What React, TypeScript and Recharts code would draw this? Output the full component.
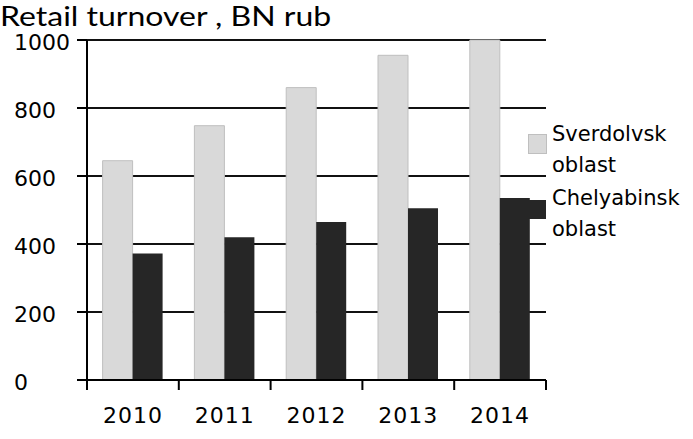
import React from 'react';
import { BarChart, Bar, XAxis, YAxis, CartesianGrid } from 'recharts';

const years = ['2010', '2011', '2012', '2013', '2014'];
const sverdlovsk = [645, 748, 860, 955, 1000];
const chelyabinsk = [372, 420, 465, 505, 535];
const yTicks = [0, 200, 400, 600, 800, 1000];
const seriesNames = ['Sverdolvsk oblast', 'Chelyabinsk oblast'];
const seriesColors = ['#d9d9d9', '#262626'];

const data = years.map((year, i) => ({
    year,
    sverdlovsk: sverdlovsk[i],
    chelyabinsk: chelyabinsk[i],
}));

const FONT = '"DejaVu Sans", sans-serif';

// category ticks sit on the band edges, like the spreadsheet original
const YearTick: React.FC<any> = ({ x, y, payload, index }) => {
    const half = payload && payload.offset ? payload.offset : 46;
    const top = y - 8;
    return (
        <g>
            <line x1={x - half} y1={top} x2={x - half} y2={top + 10} stroke="#000" strokeWidth={2} />
            {index === years.length - 1 && (
                <line x1={x + half} y1={top} x2={x + half} y2={top + 10} stroke="#000" strokeWidth={2} />
            )}
            <text x={x} y={top + 43} textAnchor="middle" fontFamily={FONT} fontSize={22} letterSpacing={1} fill="#000">
                {payload.value}
            </text>
        </g>
    );
};

// value labels are left aligned in the original
const ValueTick: React.FC<any> = ({ x, y, payload }) => (
    <g>
        <line x1={x - 2} y1={y} x2={x + 8} y2={y} stroke="#000" strokeWidth={2} />
        <text x={14} y={y + 10} textAnchor="start" fontFamily={FONT} fontSize={22} fill="#000">
            {payload.value}
        </text>
    </g>
);

const LegendBox: React.FC = () => {
    const [first, second] = seriesNames.map((n) => n.split(' '));
    return (
        <div style={{ position: 'absolute', left: 528, top: 120, width: 165, height: 130, fontFamily: FONT, fontSize: 21, color: '#000' }}>
            <div style={{ position: 'absolute', left: 0, top: 14, width: 17, height: 18, background: seriesColors[0], border: '1px solid #bfbfbf' }} />
            <div style={{ position: 'absolute', left: 24, top: -1, lineHeight: '31px' }}>
                {first[0]}<br />{first[1]}
            </div>
            <div style={{ position: 'absolute', left: 0, top: 80, width: 18, height: 19, background: seriesColors[1] }} />
            <div style={{ position: 'absolute', left: 24, top: 63, lineHeight: '31px' }}>
                {second[0]}<br />{second[1]}
            </div>
        </div>
    );
};

export default function App() {
    return (
        <div style={{ position: 'absolute', left: 0, top: 0, width: 693, height: 439, background: '#fff' }}>
            <BarChart
                width={693}
                height={439}
                data={data}
                margin={{ top: 40, right: 147, left: 0, bottom: 0 }}
                barCategoryGap="17%"
                barGap={0}
            >
                <CartesianGrid vertical={false} stroke="#111" strokeWidth={2} />
                <XAxis
                    dataKey="year"
                    height={59}
                    axisLine={{ stroke: '#000', strokeWidth: 2 }}
                    tickLine={false}
                    tick={<YearTick />}
                    interval={0}
                />
                <YAxis
                    width={87}
                    domain={[0, 1000]}
                    ticks={yTicks}
                    axisLine={{ stroke: '#000', strokeWidth: 2 }}
                    tickLine={false}
                    tick={<ValueTick />}
                />
                <Bar dataKey="sverdlovsk" name={seriesNames[0]} fill={seriesColors[0]} stroke="#bfbfbf" strokeWidth={1} isAnimationActive={false} />
                <Bar dataKey="chelyabinsk" name={seriesNames[1]} fill={seriesColors[1]} isAnimationActive={false} />
            </BarChart>
            <div style={{ position: 'absolute', left: 0, top: 3, fontFamily: 'Lato, sans-serif', fontSize: 26, color: '#000', whiteSpace: 'nowrap', transform: 'scaleX(1.23)', transformOrigin: 'left top', lineHeight: '26px' }}>
                Retail turnover , BN rub
            </div>
            <LegendBox />
        </div>
    );
}
